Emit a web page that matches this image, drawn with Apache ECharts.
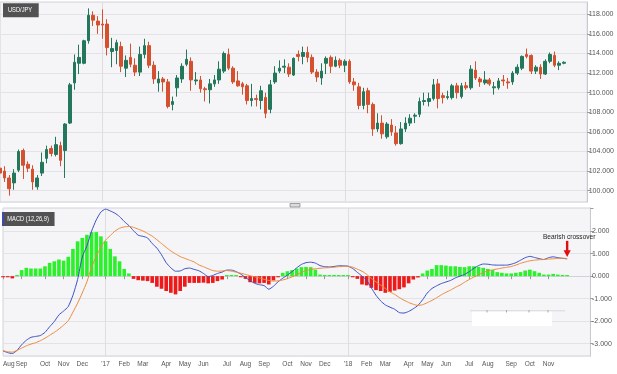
<!DOCTYPE html>
<html><head><meta charset="utf-8">
<script src="https://cdn.jsdelivr.net/npm/echarts@6/dist/echarts.min.js"></script>
<style>html,body{margin:0;padding:0;background:#fff}#c{width:617px;height:374px}</style>
</head><body><div id="c"></div>
<script>
// ---- data (weekly USD/JPY, week starting Mon 1 Aug 2016) ----
const startDate = '2016-08-01';
const nWeeks = 127;
const monthNames = ['Jan','Feb','Mar','Apr','May','Jun','Jul','Aug','Sep','Oct','Nov','Dec'];
const priceTicks = [100,102,104,106,108,110,112,114,116,118];
const macdTicks = [-3,-2,-1,0,1,2];

const open = [102.3,102.0,101.3,100.8,102.1,104.1,102.7,102.2,100.4,101.8,
103.3,104.3,103.7,104.6,104.1,106.9,111.0,113.0,113.0,115.3,
117.9,117.3,117.0,117.0,114.2,114.3,114.7,112.5,113.6,112.8,
112.1,113.9,114.8,112.8,111.0,111.4,111.1,108.8,110.5,111.4,
112.9,113.2,111.2,111.3,110.4,110.3,110.9,111.3,112.2,113.9,
112.5,111.2,110.9,110.7,109.2,109.4,109.2,109.5,108.3,111.1,
112.2,112.6,112.6,111.8,113.9,113.7,114.1,113.6,112.1,111.5,
113.0,113.6,112.7,113.3,112.8,113.2,111.1,110.6,108.7,110.2,
108.8,106.3,106.9,105.5,106.7,105.9,104.8,106.3,106.9,107.6,
107.8,109.1,109.1,109.4,110.9,109.7,109.5,109.5,110.7,109.6,
110.7,110.5,112.3,111.4,111.0,111.3,110.5,110.5,111.3,111.1,
111.1,112.0,112.5,113.9,113.8,112.2,112.6,111.9,113.2,113.8,
112.8,113.0];
const close = [101.8,101.3,100.2,101.8,104.0,102.6,102.3,100.9,101.3,102.9,
104.2,103.8,104.7,103.1,106.8,110.8,113.1,113.6,115.3,117.9,
117.4,116.9,116.9,114.6,114.5,115.1,112.7,113.3,112.9,112.1,
113.9,114.8,112.8,111.4,111.4,111.1,108.6,109.1,111.5,112.7,
113.4,111.3,111.3,110.4,110.3,110.9,111.3,112.4,114.0,112.5,
111.1,110.7,110.6,109.2,109.4,109.3,110.2,107.9,110.8,112.0,
112.5,112.7,111.9,113.5,113.7,114.1,113.6,112.1,111.6,112.2,
113.5,112.7,113.3,112.8,113.2,111.1,110.8,108.7,110.1,108.8,
106.3,106.9,105.8,106.8,106.0,104.8,106.3,106.9,107.4,107.7,
109.1,109.2,109.4,110.8,109.4,109.5,109.6,110.7,110.0,110.7,
110.5,112.4,111.5,111.1,111.3,110.9,110.6,111.2,111.2,111.0,
112.0,112.6,113.7,113.7,112.2,112.6,111.9,113.2,113.9,112.8,
113.0,113.1];
const low = [101.4,100.9,99.5,100.1,101.9,101.2,101.9,100.1,100.1,101.5,
102.8,103.5,103.5,102.5,101.3,106.8,110.3,111.9,112.9,115.0,
116.8,116.0,115.5,113.8,112.6,112.9,112.1,111.6,112.6,111.7,
111.7,113.5,112.5,110.9,110.1,110.1,108.4,108.2,109.6,111.0,
112.7,110.2,110.8,110.0,109.1,108.9,110.6,110.9,112.0,112.3,
110.9,110.6,109.8,108.8,108.6,108.6,108.3,107.4,107.9,110.9,
112.0,112.0,111.6,111.7,113.2,112.9,113.1,111.9,111.1,110.8,
111.9,112.0,112.6,112.5,112.1,110.9,110.2,108.3,108.3,107.9,
105.6,106.0,105.3,105.3,105.6,104.6,104.7,106.0,106.6,106.9,
107.5,108.7,108.6,109.2,108.4,108.9,109.3,109.3,109.4,109.4,
110.3,110.3,111.3,110.6,110.8,110.7,109.8,110.3,110.7,110.4,
110.8,111.8,112.3,113.5,111.9,111.9,111.4,111.8,113.0,112.6,
112.3,112.9];
const high = [102.8,102.5,101.6,102.2,104.2,104.3,103.0,102.6,101.6,103.9,
104.6,104.6,105.5,105.0,106.9,111.0,113.9,114.9,115.4,118.6,
118.3,117.8,118.5,117.5,115.6,115.4,115.2,113.8,115.0,113.5,
114.7,115.5,115.2,113.2,112.2,111.6,111.4,109.6,111.8,113.0,
114.4,113.6,112.1,111.7,110.6,111.4,111.8,113.2,114.2,114.5,
112.7,112.2,111.1,110.9,110.9,109.8,110.7,110.0,111.3,112.7,
113.3,113.4,113.0,113.6,114.3,114.7,114.7,113.9,112.4,113.0,
113.7,113.8,113.7,113.5,113.4,113.4,111.5,111.0,110.5,110.5,
109.0,107.9,107.7,107.0,107.3,106.6,107.0,107.5,107.8,107.9,
109.5,110.0,110.0,111.4,111.4,110.0,110.2,110.9,111.0,111.0,
111.1,112.8,113.2,111.6,112.2,111.5,111.1,111.5,111.8,111.5,
112.2,112.9,113.8,114.5,113.9,112.8,112.9,113.4,114.1,114.2,
113.2,113.2];

const macdLine = [-3.32,-3.40,-3.44,-3.30,-3.05,-2.85,-2.72,-2.68,-2.64,-2.50,
-2.25,-2.02,-1.72,-1.55,-1.35,-0.85,-0.15,0.85,1.35,2.00,
2.50,2.85,2.98,2.90,2.80,2.65,2.43,2.25,2.02,1.82,
1.77,1.70,1.45,1.25,0.95,0.60,0.37,0.22,0.23,0.33,
0.36,0.30,0.24,0.12,-0.02,0.03,0.12,0.18,0.27,0.27,
0.20,0.09,-0.06,-0.20,-0.32,-0.38,-0.42,-0.58,-0.45,-0.25,
-0.09,0.05,0.20,0.37,0.52,0.60,0.62,0.58,0.47,0.42,
0.41,0.43,0.46,0.46,0.44,0.34,0.17,0.00,-0.18,-0.52,
-0.85,-1.10,-1.28,-1.38,-1.47,-1.62,-1.64,-1.57,-1.45,-1.30,
-1.05,-0.75,-0.55,-0.43,-0.33,-0.26,-0.19,-0.08,0.00,0.08,
0.20,0.35,0.47,0.54,0.53,0.50,0.49,0.49,0.49,0.53,
0.60,0.71,0.82,0.88,0.83,0.78,0.74,0.82,0.86,0.82,
0.79,0.77];
const signalLine = [-3.32,-3.36,-3.38,-3.30,-3.20,-3.10,-3.02,-2.96,-2.87,-2.76,
-2.63,-2.50,-2.35,-2.18,-1.98,-1.60,-1.20,-0.75,-0.25,0.40,
0.88,1.30,1.60,1.80,2.00,2.13,2.19,2.21,2.17,2.09,
2.01,1.90,1.78,1.62,1.45,1.28,1.12,0.99,0.87,0.79,
0.71,0.63,0.50,0.42,0.33,0.25,0.22,0.23,0.25,0.22,
0.18,0.13,0.08,0.02,-0.03,-0.08,-0.14,-0.19,-0.22,-0.21,
-0.17,-0.11,-0.03,0.06,0.17,0.25,0.30,0.33,0.35,0.37,
0.38,0.40,0.42,0.43,0.44,0.40,0.31,0.22,0.08,-0.10,
-0.25,-0.40,-0.55,-0.70,-0.81,-0.95,-1.07,-1.17,-1.25,-1.30,
-1.27,-1.18,-1.08,-0.96,-0.83,-0.72,-0.62,-0.50,-0.40,-0.27,
-0.15,-0.04,0.06,0.16,0.24,0.28,0.32,0.36,0.39,0.43,
0.49,0.57,0.63,0.68,0.71,0.73,0.74,0.76,0.77,0.79,
0.80,0.78];
const histogram = [-0.05,-0.05,-0.10,0.05,0.27,0.37,0.34,0.34,0.34,0.44,
0.59,0.66,0.74,0.69,0.86,1.21,1.55,1.70,1.84,1.96,
1.96,1.77,1.55,1.21,0.88,0.66,0.32,0.12,-0.12,-0.18,
-0.20,-0.22,-0.30,-0.47,-0.56,-0.66,-0.74,-0.81,-0.66,-0.47,
-0.30,-0.30,-0.30,-0.29,-0.32,-0.30,-0.22,-0.15,0.05,0.05,
0.05,-0.05,-0.12,-0.27,-0.30,-0.32,-0.30,-0.37,-0.19,-0.05,
0.15,0.22,0.27,0.34,0.40,0.41,0.40,0.29,0.07,0.05,
0.05,0.05,0.05,0.05,0.05,-0.05,-0.12,-0.37,-0.41,-0.52,
-0.62,-0.66,-0.74,-0.70,-0.64,-0.58,-0.50,-0.32,-0.15,-0.06,
0.12,0.25,0.32,0.49,0.49,0.47,0.44,0.44,0.41,0.40,
0.44,0.44,0.41,0.37,0.32,0.27,0.18,0.15,0.12,0.12,
0.15,0.18,0.25,0.29,0.22,0.15,0.07,0.07,0.10,0.07,
0.05,0.05];

// ---- categories (weeks) and month labels ----
const DAY = 86400000;
const t0 = Date.parse(startDate + 'T00:00:00Z');
const weeks = [];
for (let i = 0; i < nWeeks; i++) weeks.push(new Date(t0 + i * 7 * DAY).toISOString().slice(0, 10));
const labelText = {};
const yearIdx = new Set();
let prevM = -1;
for (let i = 0; i < open.length; i++) {
  const fri = new Date(t0 + (i * 7 + 4) * DAY);
  const m = fri.getUTCMonth();
  if (m !== prevM) {
    labelText[i] = m === 0 ? "'" + String(fri.getUTCFullYear()).slice(2) : monthNames[m];
    if (m === 0) yearIdx.add(i);
  }
  prevM = m;
}
const isLabel = (i) => labelText[i] !== undefined;
const isYear = (i) => yearIdx.has(i);
const candles = open.map((o, i) => [o, close[i], low[i], high[i]]);

const FONT = "'Liberation Sans',Arial,sans-serif";
const tickFmt = (ticks) => (v) => ticks.some(t => Math.abs(t - v) < 1e-6) ? v.toFixed(3) : '';

const chart = echarts.init(document.getElementById('c'), null, {renderer: 'canvas'});
const GL = -0.48, GW = 590.94;
const option = {
  animation: false,
  backgroundColor: '#ffffff',
  grid: [
    {left: GL, top: 2, width: GW, height: 200, show: true, backgroundColor: '#f5f5f7', borderColor: '#cfd2d8', borderWidth: 1},
    {left: GL, top: 208, width: GW, height: 148, show: true, backgroundColor: '#f5f5f7', borderColor: '#cfd2d8', borderWidth: 1}
  ],
  xAxis: [
    {type: 'category', gridIndex: 0, data: weeks, boundaryGap: false,
     axisLine: {show: false}, axisTick: {show: false}, axisLabel: {show: false},
     splitLine: {show: true, interval: isYear, lineStyle: {color: '#dedee2', width: 1}}},
    {type: 'category', gridIndex: 1, data: weeks, boundaryGap: false,
     axisLine: {show: true, lineStyle: {color: '#cfd2d8'}},
     axisTick: {show: true, interval: isLabel, length: 3, lineStyle: {color: '#999'}},
     axisLabel: {interval: isLabel, formatter: (v, i) => labelText[i] || '', color: '#555',
                 fontFamily: FONT, fontSize: 6.5, margin: 5, showMinLabel: true, alignMinLabel: 'left',
                 hideOverlap: false},
     splitLine: {show: true, interval: isYear, lineStyle: {color: '#dedee2', width: 1}}}
  ],
  yAxis: [
    {type: 'value', gridIndex: 0, position: 'right', min: 98.85, max: 119.25,
     splitNumber: 10, minInterval: 2, maxInterval: 2,
     axisLine: {show: true, lineStyle: {color: '#c8c9ce'}},
     axisTick: {show: true, length: 3, lineStyle: {color: '#999'}},
     axisLabel: {formatter: tickFmt(priceTicks), color: '#555', fontFamily: FONT, fontSize: 7, margin: 1.5,
                 showMinLabel: false, showMaxLabel: false},
     splitLine: {show: true, lineStyle: {color: '#e3e3e7'}}},
    {type: 'value', gridIndex: 1, position: 'right', min: -3.55, max: 3.03,
     splitNumber: 7, minInterval: 1, maxInterval: 1,
     axisLine: {show: true, lineStyle: {color: '#c8c9ce'}},
     axisTick: {show: true, length: 3, lineStyle: {color: '#999'}},
     axisLabel: {formatter: tickFmt(macdTicks), color: '#555', fontFamily: FONT, fontSize: 7, margin: 1.5,
                 showMinLabel: false, showMaxLabel: false},
     splitLine: {show: true, lineStyle: {color: '#e3e3e7'}}}
  ],
  series: [
    {type: 'candlestick', name: 'USD/JPY', xAxisIndex: 0, yAxisIndex: 0, data: candles, barWidth: '68%',
     itemStyle: {color: '#23785b', color0: '#d5502f', borderColor: '#23785b', borderColor0: '#d5502f', borderWidth: 1}},
    {type: 'bar', name: 'hist', xAxisIndex: 1, yAxisIndex: 1, data: histogram, barWidth: '78%',
     itemStyle: {color: (p) => p.value >= 0 ? '#2df02d' : '#ec1a1a'}},
    {type: 'line', name: 'MACD', xAxisIndex: 1, yAxisIndex: 1, data: macdLine, symbol: 'none', smooth: 0.2,
     lineStyle: {color: '#3b4fc6', width: 1}, z: 3},
    {type: 'line', name: 'Signal', xAxisIndex: 1, yAxisIndex: 1, data: signalLine, symbol: 'none', smooth: 0.2,
     lineStyle: {color: '#ee8a3a', width: 1}, z: 3}
  ]
};
chart.setOption(option);

const last = open.length - 1;
const p = chart.convertToPixel({gridIndex: 1}, [weeks[last], macdLine[last]]);
const NARROW = 0.82;
const boxStyle = {fill: '#ffffff', fontSize: 7, fontFamily: FONT, backgroundColor: '#525252', verticalAlign: 'middle'};
chart.setOption({
  graphic: [
    {type: 'text', x: 3, y: 10.3, scaleX: NARROW, style: Object.assign({text: 'USD/JPY', padding: [3.5, 8, 3.5, 6]}, boxStyle), z: 10},
    {type: 'text', x: 2, y: 219, scaleX: NARROW, style: Object.assign({text: 'MACD (12,26,9)', padding: [3.5, 7, 3.5, 6.5]}, boxStyle), z: 10},
    {type: 'rect', shape: {x: 2, y: 212, width: 1.5, height: 14}, style: {fill: '#3b48c8'}, z: 11},
    // separator handle
    {type: 'rect', shape: {x: 290, y: 203.5, width: 10, height: 3.5}, style: {fill: '#dcdcdc', stroke: '#8a8a8a', lineWidth: 0.8}, z: 10},
    // white patch with faint axis
    {type: 'rect', shape: {x: 472, y: 311, width: 80, height: 15}, style: {fill: '#ffffff'}, z: 5},
    {type: 'line', shape: {x1: 470, y1: 310.8, x2: 565, y2: 310.8}, style: {stroke: '#d8d8dc', lineWidth: 1}, z: 5},
    {type: 'line', shape: {x1: 487, y1: 310, x2: 487, y2: 312.5}, style: {stroke: '#999', lineWidth: 0.8}, z: 6},
    {type: 'line', shape: {x1: 506.5, y1: 310, x2: 506.5, y2: 312.5}, style: {stroke: '#999', lineWidth: 0.8}, z: 6},
    {type: 'line', shape: {x1: 529, y1: 310, x2: 529, y2: 312.5}, style: {stroke: '#999', lineWidth: 0.8}, z: 6},
    {type: 'line', shape: {x1: 548, y1: 310, x2: 548, y2: 312.5}, style: {stroke: '#999', lineWidth: 0.8}, z: 6},
    // annotation
    {type: 'text', x: p[0] + 2, y: p[1] - 22, scaleX: NARROW, style: {text: 'Bearish crossover', fill: '#222', fontSize: 8, fontFamily: FONT, align: 'center', verticalAlign: 'middle'}, z: 12},
    {type: 'rect', shape: {x: p[0] - 1.2, y: p[1] - 18, width: 2.4, height: 10}, style: {fill: '#e01010'}, z: 12},
    {type: 'polygon', shape: {points: [[p[0] - 3.6, p[1] - 8.5], [p[0] + 3.6, p[1] - 8.5], [p[0], p[1] - 1.8]]}, style: {fill: '#e01010'}, z: 12}
  ]
});
</script>
</body></html>
